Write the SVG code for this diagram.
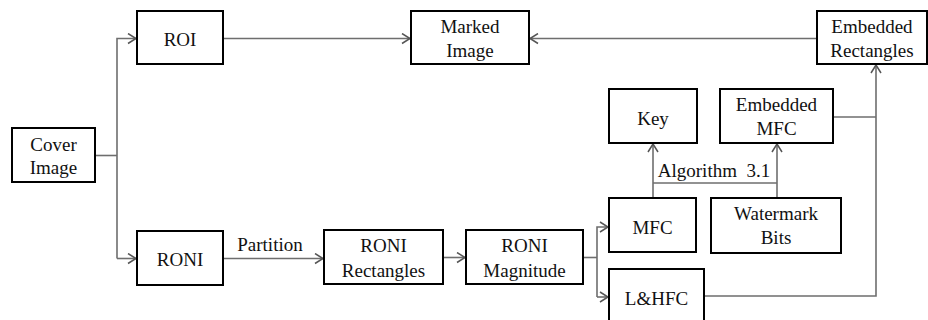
<svg xmlns="http://www.w3.org/2000/svg" width="928" height="320" viewBox="0 0 928 320">
<style>
.box{fill:#fff;stroke:#000;stroke-width:2}
.c{fill:none;stroke:#6e6e6e;stroke-width:1.6}
</style>
<defs>
<marker id="a" markerUnits="userSpaceOnUse" markerWidth="12" markerHeight="12" refX="9" refY="6" orient="auto">
<path d="M1,1 L9,6 L1,11" fill="none" stroke="#555" stroke-width="1.5"/>
</marker>
</defs>
<rect width="928" height="320" fill="#fff"/>
<g id="connectors">
<path class="c" d="M95,155.5 H117"/>
<path class="c" d="M117,258.5 V38.5 H136" marker-end="url(#a)"/>
<path class="c" d="M117,258.5 H136" marker-end="url(#a)"/>
<path class="c" d="M223,38.5 H410" marker-end="url(#a)"/>
<path class="c" d="M817,38.5 H530" marker-end="url(#a)"/>
<path class="c" d="M223,258.5 H323" marker-end="url(#a)"/>
<path class="c" d="M443,257.5 H465" marker-end="url(#a)"/>
<path class="c" d="M583,257.5 H597"/>
<path class="c" d="M597,297 V227 H608" marker-end="url(#a)"/>
<path class="c" d="M597,297 H608" marker-end="url(#a)"/>
<path class="c" d="M653,198 V144" marker-end="url(#a)"/>
<path class="c" d="M777,198 V144" marker-end="url(#a)"/>
<path class="c" d="M653,183 H777"/>
<path class="c" d="M833,117 H876"/>
<path class="c" d="M704,296 H876 V65" marker-end="url(#a)"/>
<text x="270" y="251" style="font-family:'Liberation Serif',serif;font-size:19px;text-anchor:middle;fill:#111">Partition</text>
<text x="714" y="177" style="font-family:'Liberation Serif',serif;font-size:19px;text-anchor:middle;fill:#111;white-space:pre" xml:space="preserve">Algorithm  3.1</text>
</g>
<g id="cover-image"><rect class="box" x="12" y="128" width="83" height="54"/><text x="53.5" y="151" style="font-family:'Liberation Serif',serif;font-size:19px;text-anchor:middle;fill:#111">Cover</text><text x="53.5" y="174" style="font-family:'Liberation Serif',serif;font-size:19px;text-anchor:middle;fill:#111">Image</text></g>
<g id="roi"><rect class="box" x="137" y="11" width="86" height="53"/><text x="180" y="46" style="font-family:'Liberation Serif',serif;font-size:19px;text-anchor:middle;fill:#111">ROI</text></g>
<g id="roni"><rect class="box" x="137" y="231" width="86" height="54"/><text x="180" y="266" style="font-family:'Liberation Serif',serif;font-size:19px;text-anchor:middle;fill:#111">RONI</text></g>
<g id="marked-image"><rect class="box" x="411" y="11" width="118" height="53"/><text x="470" y="33" style="font-family:'Liberation Serif',serif;font-size:19px;text-anchor:middle;fill:#111">Marked</text><text x="470" y="57" style="font-family:'Liberation Serif',serif;font-size:19px;text-anchor:middle;fill:#111">Image</text></g>
<g id="embedded-rectangles"><rect class="box" x="817" y="11" width="110" height="53"/><text x="872" y="33" style="font-family:'Liberation Serif',serif;font-size:19px;text-anchor:middle;fill:#111">Embedded</text><text x="872" y="57" style="font-family:'Liberation Serif',serif;font-size:19px;text-anchor:middle;fill:#111">Rectangles</text></g>
<g id="key"><rect class="box" x="609" y="89" width="88" height="54"/><text x="653" y="125" style="font-family:'Liberation Serif',serif;font-size:19px;text-anchor:middle;fill:#111">Key</text></g>
<g id="embedded-mfc"><rect class="box" x="720" y="89" width="113" height="54"/><text x="776.5" y="111" style="font-family:'Liberation Serif',serif;font-size:19px;text-anchor:middle;fill:#111">Embedded</text><text x="776.5" y="135" style="font-family:'Liberation Serif',serif;font-size:19px;text-anchor:middle;fill:#111">MFC</text></g>
<g id="roni-rectangles"><rect class="box" x="324" y="230" width="119" height="54"/><text x="383.5" y="252" style="font-family:'Liberation Serif',serif;font-size:19px;text-anchor:middle;fill:#111">RONI</text><text x="383.5" y="277" style="font-family:'Liberation Serif',serif;font-size:19px;text-anchor:middle;fill:#111">Rectangles</text></g>
<g id="roni-magnitude"><rect class="box" x="466" y="230" width="117" height="54"/><text x="524.5" y="252" style="font-family:'Liberation Serif',serif;font-size:19px;text-anchor:middle;fill:#111">RONI</text><text x="524.5" y="277" style="font-family:'Liberation Serif',serif;font-size:19px;text-anchor:middle;fill:#111">Magnitude</text></g>
<g id="mfc"><rect class="box" x="609" y="198" width="87" height="54"/><text x="652.5" y="234" style="font-family:'Liberation Serif',serif;font-size:19px;text-anchor:middle;fill:#111">MFC</text></g>
<g id="watermark-bits"><rect class="box" x="711" y="198" width="130" height="55"/><text x="776" y="220" style="font-family:'Liberation Serif',serif;font-size:19px;text-anchor:middle;fill:#111">Watermark</text><text x="776" y="244" style="font-family:'Liberation Serif',serif;font-size:19px;text-anchor:middle;fill:#111">Bits</text></g>
<g id="lhfc"><rect class="box" x="609" y="269" width="95" height="54"/><text x="656.5" y="305" style="font-family:'Liberation Serif',serif;font-size:19px;text-anchor:middle;fill:#111">L&amp;HFC</text></g>
</svg>
